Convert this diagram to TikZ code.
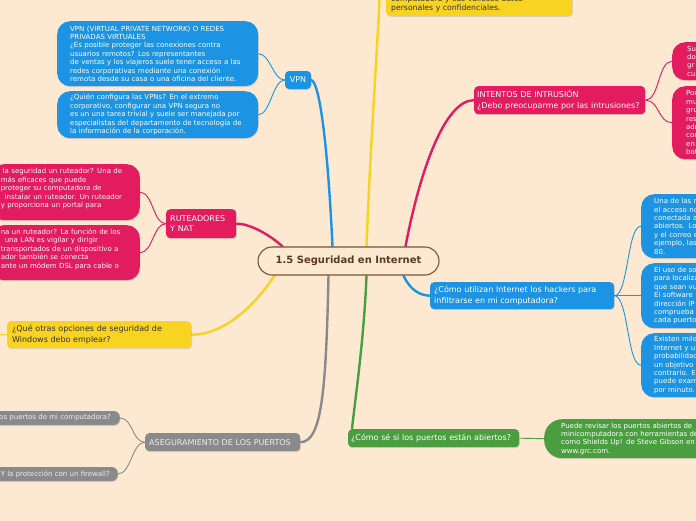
\documentclass[tikz,border=0pt]{standalone}
\usepackage{fontspec}
\setmainfont{DejaVu Sans}
\usetikzlibrary{shadows}
\definecolor{bg}{HTML}{FDE8D2}
\definecolor{cblue}{HTML}{1C93E3}
\definecolor{cred}{HTML}{E31B5F}
\definecolor{cyel}{HTML}{F8D321}
\definecolor{cgreen}{HTML}{4A9E3F}
\definecolor{cgray}{HTML}{8A8A8C}
\definecolor{cbrown}{HTML}{7B5430}
\definecolor{cbtext}{HTML}{5C3A1E}
\definecolor{ctext}{HTML}{333333}
\pgfdeclarelayer{bgl}
\pgfsetlayers{bgl,main}
\begin{document}
\begin{tikzpicture}[x=1pt,y=-1pt,
  shd/.style={drop shadow={shadow xshift=0.6pt,shadow yshift=-1pt,opacity=0.25}},
  head/.style={shd,rounded corners=4pt,text=white,font=\fontsize{8}{10.5}\selectfont,align=left,inner xsep=3pt,inner ysep=1pt},
  leaf/.style={shd,rounded corners=13pt,text=white,font=\fontsize{7}{8.4}\selectfont,align=left,inner ysep=2pt},
  pill/.style={shd,rounded corners=6pt,fill=cgray,text=white!93!black,font=\fontsize{7}{8}\selectfont,minimum height=14pt,inner ysep=1pt},
  branch/.style={line width=2.4pt,line cap=round},
  twig/.style={line width=0.9pt},
]
\useasboundingbox (0,0) rectangle (696,520);
\begin{scope}
\clip (0,0) rectangle (696,520);
\begin{pgfonlayer}{bgl}
\fill[bg] (-5,-5) rectangle (701,525);
\end{pgfonlayer}

% central node
\node[draw=cbrown,line width=1.1pt,fill=bg,rounded corners=14pt,minimum width=181pt,minimum height=28pt,
      text=cbtext,font=\bfseries\fontsize{10}{12}\selectfont,inner sep=0pt] (c) at (348.5,261) {1.5 Seguridad en Internet};

% VPN
\node[head,fill=cblue,minimum width=26pt,minimum height=18pt,align=center,inner xsep=0pt] (vpn) at (298,80) {VPN};
\node[leaf,fill=cblue,anchor=north west,text width=175pt,inner xsep=13pt,minimum height=65pt] (vpn1) at (57,21)
 {VPN (VIRTUAL PRIVATE NETWORK) O REDES\\PRIVADAS VIRTUALES\\¿Es posible proteger las conexiones contra\\usuarios remotos? Los representantes\\de ventas y los viajeros suele tener acceso a las\\redes corporativas mediante una conexión\\remota desde su casa o una oficina del cliente.};
\node[leaf,fill=cblue,anchor=north west,text width=175pt,inner xsep=13pt,minimum height=47pt] (vpn2) at (57,91)
 {¿Quién configura las VPNs? En el extremo\\corporativo, configurar una VPN segura no\\es un una tarea trivial y suele ser manejada por\\especialistas del departamento de tecnología de\\la información de la corporación.};

% top yellow
\node[shd,fill=cyel,rounded corners=4pt,text=ctext,font=\fontsize{7.7}{8.6}\selectfont,align=left,
      anchor=south west,text width=176pt,inner xsep=5pt,inner ysep=4pt] (top) at (386,16)
 {computadora y sus valiosos datos\\personales y confidenciales.};
\coordinate (ytop) at (381,-30);

% INTENTOS
\node[head,fill=cred,anchor=north west,text width=165pt,minimum height=28pt] (int) at (474,86)
 {INTENTOS DE INTRUSIÓN\\¿Debo preocuparme por las intrusiones?};
\node[leaf,fill=cred,anchor=north west,text width=80pt,inner xsep=15pt,minimum height=38pt] (int1) at (672,42)
 {Su\\do\\gr\\cu};
\node[leaf,fill=cred,anchor=north west,text width=80pt,inner xsep=14pt,minimum height=73pt] (int2) at (672,86)
 {Por\\mu\\gru\\res\\adr\\cor\\en\\bot};

% hackers
\node[head,fill=cblue,anchor=north west,text width=176pt,inner xsep=4pt,minimum height=27pt] (hack) at (430,282)
 {¿Cómo utilizan Internet los hackers para\\infiltrarse en mi computadora?};
\node[leaf,fill=cblue,anchor=north west,text width=100pt,inner xsep=13pt,minimum height=64pt] (hack1) at (641,194)
 {Una de las m\\el acceso no\\conectada a\\abiertos. Lo\\y el correo e\\ejemplo, las\\80.};
\node[leaf,fill=cblue,anchor=north west,text width=100pt,inner xsep=13pt,minimum height=65pt] (hack2) at (641,263)
 {El uso de so\\para localiza\\que sean vu\\El software\\dirección IP\\comprueba\\cada puerto};
\node[leaf,fill=cblue,anchor=north west,text width=100pt,inner xsep=13pt,minimum height=64pt] (hack3) at (641,333)
 {Existen miles\\Internet y u\\probabilidad\\un objetivo\\contrario. E\\puede exam\\por minuto.};

% ports open
\node[head,fill=cgreen,anchor=north west,text width=165pt,minimum height=18pt] (ports) at (348,429)
 {¿Cómo sé si los puertos están abiertos?};
\node[leaf,fill=cgreen,rounded corners=18pt,anchor=north west,text width=140pt,inner xsep=17pt,minimum height=39pt] (ports1) at (544,419)
 {Puede revisar los puertos abiertos de\\minicomputadora con herramientas de\\como Shields Up! de Steve Gibson en\\www.grc.com.};

% aseguramiento
\node[head,fill=cgray,text=white!93!black,anchor=north west,text width=147pt,inner xsep=4pt,minimum height=18pt] (aseg) at (145,433)
 {ASEGURAMIENTO DE LOS PUERTOS};
\node[pill,anchor=east,inner xsep=9pt] (g1) at (120,418) {os puertos de mi computadora?};
\node[pill,anchor=east,inner xsep=8pt] (g2) at (118,474) {¿Y la protección con un firewall?};

% windows
\node[head,fill=cyel,text=ctext,anchor=north west,text width=174pt,inner xsep=5pt,minimum height=27pt] (win) at (7,321)
 {¿Qué otras opciones de seguridad de\\Windows debo emplear?};
\coordinate (wl) at (-20,334);

% ruteadores
\node[head,fill=cred,anchor=north west,text width=62pt,inner xsep=4pt,minimum height=29pt] (rut) at (166,209)
 {RUTEADORES\\Y NAT};
\node[leaf,fill=cred,anchor=north east,text width=129pt,inner xsep=10pt,minimum height=56pt] (rut1) at (140,164)
 {\hspace{2pt}la seguridad un ruteador? Una de\\más eficaces que puede\\proteger su computadora de\\\hspace{4pt}instalar un ruteador. Un ruteador\\y proporciona un portal para\\\mbox{}};
\node[leaf,fill=cred,anchor=north east,text width=129pt,inner xsep=10pt,minimum height=55pt] (rut2) at (140,225)
 {na un ruteador? La función de los\\\hspace{4pt}una LAN es vigilar y dirigir\\transportados de un dispositivo a\\ador también se conecta\\ante un módem DSL para cable o\\\mbox{}};

\begin{pgfonlayer}{bgl}
% main branches
\draw[cblue,branch] ([xshift=-16pt]c.north) .. controls (328,150) and (320,82) .. (vpn.east);
\draw[cyel,branch] ([xshift=18pt]c.north) .. controls (370,150) and (378,40) .. (ytop);
\draw[cred,branch] ([xshift=57pt]c.north) .. controls (420,170) and (445,100) .. (int.west);
\draw[cblue,branch] ([xshift=55pt]c.south) .. controls (410,290) and (420,295.5) .. (hack.west);
\draw[cgreen,branch] ([xshift=18pt]c.south) .. controls (364,340) and (355,400) .. ([xshift=4pt]ports.north west);
\draw[cgray,branch] ([xshift=-20pt]c.south) .. controls (326,390) and (322,442) .. (aseg.east);
\draw[cyel,branch] ([xshift=-74pt]c.south) .. controls (255,305) and (225,334.5) .. (win.east);
\draw[cred,branch] ([xshift=-66pt]c.north) .. controls (270,235) and (250,223.5) .. (rut.east);
% twigs
\draw[cblue,twig] (vpn.west) .. controls +(-12,0) and +(12,0) .. (vpn1.east);
\draw[cblue,twig] (vpn.west) .. controls +(-12,0) and +(12,0) .. (vpn2.east);
\draw[cred,twig] (int.east) .. controls +(14,0) and +(-14,0) .. (int1.west);
\draw[cred,twig] (int.east) .. controls +(14,0) and +(-14,0) .. (int2.west);
\draw[cblue,twig] (hack.east) .. controls +(14,0) and +(-14,0) .. (hack1.west);
\draw[cblue,twig] (hack.east) -- (hack2.west);
\draw[cblue,twig] (hack.east) .. controls +(14,0) and +(-14,0) .. (hack3.west);
\draw[cgreen,twig] (ports.east) -- (ports1.west);
\draw[cgray,twig] (aseg.west) .. controls +(-13,0) and +(13,0) .. (g1.east);
\draw[cgray,twig] (aseg.west) .. controls +(-13,0) and +(13,0) .. (g2.east);
\draw[cyel,twig] (win.west) -- (wl);
\draw[cred,twig] (rut.west) .. controls +(-13,0) and +(13,0) .. (rut1.east);
\draw[cred,twig] (rut.west) .. controls +(-13,0) and +(13,0) .. (rut2.east);
\end{pgfonlayer}
\end{scope}
\end{tikzpicture}
\end{document}
